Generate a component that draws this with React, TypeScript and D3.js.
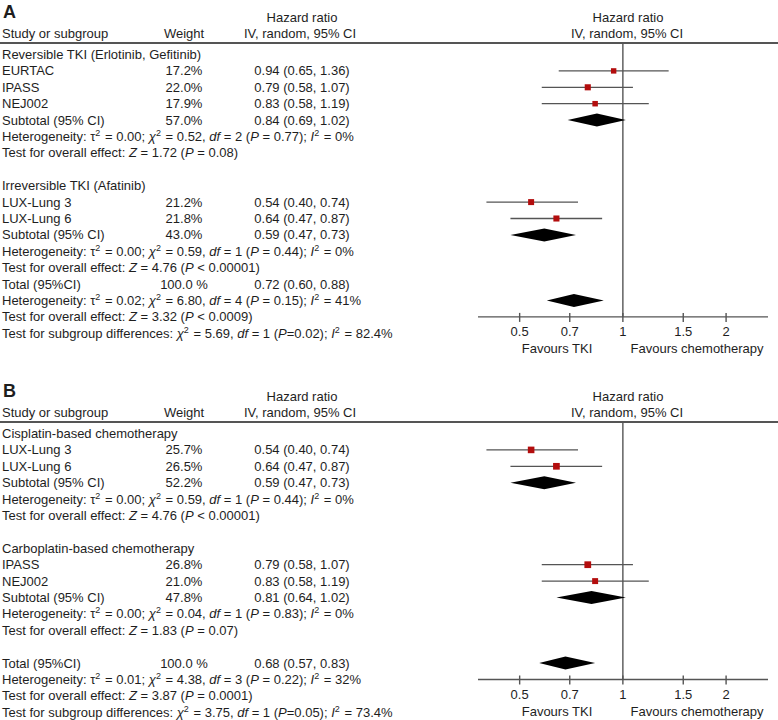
import React from "react";
import * as d3 from "d3";

const W = 778;
const H = 720;
const FONT = "'Liberation Sans', Arial, Helvetica, sans-serif";

// ---------- Panel A ----------
const groupNamesA = ["Reversible TKI (Erlotinib, Gefitinib)", "Irreversible TKI (Afatinib)"];
const studyNamesA = [["EURTAC", "IPASS", "NEJ002"], ["LUX-Lung 3", "LUX-Lung 6"]];
const studyWeightsA = [[17.2, 22.0, 17.9], [21.2, 21.8]];
const studyHRA = [[0.94, 0.79, 0.83], [0.54, 0.64]];
const studyLowA = [[0.65, 0.58, 0.58], [0.40, 0.47]];
const studyHighA = [[1.36, 1.07, 1.19], [0.74, 0.87]];
const subWeightsA = [57.0, 43.0];
const subHRA = [0.84, 0.59];
const subLowA = [0.69, 0.47];
const subHighA = [1.02, 0.73];
const hetTauA = ["0.00", "0.00"];
const hetChiA = ["0.52", "0.59"];
const hetDfA = ["2", "1"];
const hetPA = ["= 0.77", "= 0.44"];
const hetIA = ["0%", "0%"];
const zA = ["1.72", "4.76"];
const zPA = ["= 0.08", "< 0.00001"];
const totalA = { hr: 0.72, lo: 0.60, hi: 0.88, tau: "0.02", chi: "6.80", df: "4", p: "= 0.15", i2: "41%", z: "3.32", zp: "< 0.0009", sChi: "5.69", sDf: "1", sP: "0.02", sI: "82.4%" };

// ---------- Panel B ----------
const groupNamesB = ["Cisplatin-based chemotherapy", "Carboplatin-based chemotherapy"];
const studyNamesB = [["LUX-Lung 3", "LUX-Lung 6"], ["IPASS", "NEJ002"]];
const studyWeightsB = [[25.7, 26.5], [26.8, 21.0]];
const studyHRB = [[0.54, 0.64], [0.79, 0.83]];
const studyLowB = [[0.40, 0.47], [0.58, 0.58]];
const studyHighB = [[0.74, 0.87], [1.07, 1.19]];
const subWeightsB = [52.2, 47.8];
const subHRB = [0.59, 0.81];
const subLowB = [0.47, 0.64];
const subHighB = [0.73, 1.02];
const hetTauB = ["0.00", "0.00"];
const hetChiB = ["0.59", "0.04"];
const hetDfB = ["1", "1"];
const hetPB = ["= 0.44", "= 0.83"];
const hetIB = ["0%", "0%"];
const zB = ["4.76", "1.83"];
const zPB = ["< 0.00001", "= 0.07"];
const totalB = { hr: 0.68, lo: 0.57, hi: 0.83, tau: "0.01", chi: "4.38", df: "3", p: "= 0.22", i2: "32%", z: "3.87", zp: "= 0.0001", sChi: "3.75", sDf: "1", sP: "0.05", sI: "73.4%" };

// ---------- Axis ----------
const tickValues = [0.5, 0.7, 1, 1.5, 2];
const tickLabels = ["0.5", "0.7", "1", "1.5", "2"];
const favourLeft = "Favours TKI";
const favourRight = "Favours chemotherapy";

const x = d3.scaleLog().domain([0.378, 2.65]).range([478, 768]);

const ROW = 16.4;
const TEXT_COLOR = "#1e1e1e";
const LINE_COLOR = "#555";
const MARK_COLOR = "#b30d0d";

const fmt2 = d3.format(".2f");
const fmtW = (w: number) => w.toFixed(1) + "%";
const hrText = (h: number, l: number, u: number) => `${fmt2(h)} (${fmt2(l)}, ${fmt2(u)})`;

function Sup({ t }: { t: string }) {
  return (
    <>
      <tspan dy={-5} fontSize={9}>{t}</tspan>
      <tspan dy={5}>{"\u200A"}</tspan>
    </>
  );
}

function It({ t }: { t: string }) {
  return <tspan fontStyle="italic">{t}</tspan>;
}

function HetLine({ tau, chi, df, p, i2 }: any) {
  return (
    <>
      {"Heterogeneity: \u03C4"}
      <Sup t="2" />
      {` = ${tau}; `}
      <It t={"\u03C7"} />
      <Sup t="2" />
      {` = ${chi}, `}
      <It t="df" />
      {` = ${df} (`}
      <It t="P" />
      {` ${p}); `}
      <It t="I" />
      <Sup t="2" />
      {` = ${i2}`}
    </>
  );
}

function ZLine({ z, p }: any) {
  return (
    <>
      {"Test for overall effect: "}
      <It t="Z" />
      {` = ${z} (`}
      <It t="P" />
      {` ${p})`}
    </>
  );
}

function SubLine({ chi, df, p, i2 }: any) {
  return (
    <>
      {"Test for subgroup differences: "}
      <It t={"\u03C7"} />
      <Sup t="2" />
      {` = ${chi}, `}
      <It t="df" />
      {` = ${df} (`}
      <It t="P" />
      {`=${p}); `}
      <It t="I" />
      <Sup t="2" />
      {` = ${i2}`}
    </>
  );
}

function Panel(props: any) {
  const { top, letter, groups, names, weights, hr, lo, hi, sW, sHR, sLo, sHi, tau, chi, df, hp, hi2, z, zp, total, totalGap } = props;
  const lineY = top + 43;
  const rowY = (i: number) => top + 54.5 + i * ROW;
  const textEls: any[] = [];
  const plotEls: any[] = [];
  let idx = 0;
  const tx = (i: number) => rowY(i) + 4.5;

  groups.forEach((g: string, gi: number) => {
    if (gi > 0) idx += 1; // blank row between groups
    textEls.push(<text key={`g${gi}`} x={2} y={tx(idx)}>{g}</text>);
    idx++;
    names[gi].forEach((n: string, si: number) => {
      const yy = rowY(idx);
      textEls.push(
        <g key={`s${gi}-${si}`}>
          <text x={2} y={tx(idx)}>{n}</text>
          <text x={184} y={tx(idx)} textAnchor="middle">{fmtW(weights[gi][si])}</text>
          <text x={302} y={tx(idx)} textAnchor="middle">{hrText(hr[gi][si], lo[gi][si], hi[gi][si])}</text>
        </g>
      );
      const side = Math.sqrt(weights[gi][si]) * 1.3;
      plotEls.push(
        <g key={`m${gi}-${si}`}>
          <line x1={x(lo[gi][si])} x2={x(hi[gi][si])} y1={yy} y2={yy} stroke={LINE_COLOR} strokeWidth={1.3} />
          <rect x={x(hr[gi][si]) - side / 2} y={yy - side / 2} width={side} height={side} fill={MARK_COLOR} />
        </g>
      );
      idx++;
    });
    const ys = rowY(idx);
    textEls.push(
      <g key={`st${gi}`}>
        <text x={2} y={tx(idx)}>Subtotal (95% CI)</text>
        <text x={184} y={tx(idx)} textAnchor="middle">{fmtW(sW[gi])}</text>
        <text x={302} y={tx(idx)} textAnchor="middle">{hrText(sHR[gi], sLo[gi], sHi[gi])}</text>
      </g>
    );
    const dh = 6.5;
    plotEls.push(
      <path key={`d${gi}`} d={`M${x(sLo[gi])},${ys}L${x(sHR[gi])},${ys - dh}L${x(sHi[gi])},${ys}L${x(sHR[gi])},${ys + dh}Z`} fill="#000" />
    );
    idx++;
    textEls.push(<text key={`h${gi}`} x={2} y={tx(idx)}><HetLine tau={tau[gi]} chi={chi[gi]} df={df[gi]} p={hp[gi]} i2={hi2[gi]} /></text>);
    idx++;
    textEls.push(<text key={`z${gi}`} x={2} y={tx(idx)}><ZLine z={z[gi]} p={zp[gi]} /></text>);
    idx++;
  });

  const plotTotalIdx = idx + 1;
  let ti = idx + totalGap;
  textEls.push(
    <g key="tot">
      <text x={2} y={tx(ti)}>Total (95%CI)</text>
      <text x={184} y={tx(ti)} textAnchor="middle">100.0 %</text>
      <text x={302} y={tx(ti)} textAnchor="middle">{hrText(total.hr, total.lo, total.hi)}</text>
    </g>
  );
  ti++;
  textEls.push(<text key="th" x={2} y={tx(ti)}><HetLine tau={total.tau} chi={total.chi} df={total.df} p={total.p} i2={total.i2} /></text>);
  ti++;
  textEls.push(<text key="tz" x={2} y={tx(ti)}><ZLine z={total.z} p={total.zp} /></text>);
  ti++;
  textEls.push(<text key="ts" x={2} y={tx(ti)}><SubLine chi={total.sChi} df={total.sDf} p={total.sP} i2={total.sI} /></text>);

  const yt = rowY(plotTotalIdx);
  const dh = 6.5;
  plotEls.push(
    <path key="dtot" d={`M${x(total.lo)},${yt}L${x(total.hr)},${yt - dh}L${x(total.hi)},${yt}L${x(total.hr)},${yt + dh}Z`} fill="#000" />
  );
  const axisY = rowY(plotTotalIdx + 1);
  const [r0, r1] = x.range();

  return (
    <g>
      <text x={3} y={top + 18} fontWeight="bold" fontSize={18}>{letter}</text>
      <text x={302} y={top + 21.5} textAnchor="middle">Hazard ratio</text>
      <text x={300} y={top + 38} textAnchor="middle">IV, random, 95% CI</text>
      <text x={2} y={top + 38}>Study or subgroup</text>
      <text x={184} y={top + 38} textAnchor="middle">Weight</text>
      <text x={628} y={top + 21.5} textAnchor="middle">Hazard ratio</text>
      <text x={627} y={top + 38} textAnchor="middle">IV, random, 95% CI</text>
      <line x1={0} x2={W} y1={lineY} y2={lineY} stroke={LINE_COLOR} strokeWidth={1.8} />
      {textEls}
      <line x1={x(1)} x2={x(1)} y1={lineY} y2={axisY} stroke={LINE_COLOR} strokeWidth={1.4} />
      {plotEls}
      <line x1={r0} x2={r1} y1={axisY} y2={axisY} stroke={LINE_COLOR} strokeWidth={1.4} />
      {tickValues.map((t, i) => (
        <g key={`t${i}`}>
          <line x1={x(t)} x2={x(t)} y1={axisY - 4} y2={axisY + 5} stroke={LINE_COLOR} strokeWidth={1.4} />
          <text x={x(t)} y={axisY + 19} textAnchor="middle">{tickLabels[i]}</text>
        </g>
      ))}
      <text x={557} y={axisY + 36} textAnchor="middle">{favourLeft}</text>
      <text x={697} y={axisY + 36} textAnchor="middle">{favourRight}</text>
    </g>
  );
}

export default function App() {
  return (
    <svg
      width={W}
      height={H}
      style={{ position: "absolute", left: 0, top: 0, background: "#fff" }}
      fontFamily={FONT}
      fontSize={13}
      fill={TEXT_COLOR}
    >
      <rect width={W} height={H} fill="#fff" />
      <Panel
        top={0}
        letter="A"
        groups={groupNamesA}
        names={studyNamesA}
        weights={studyWeightsA}
        hr={studyHRA}
        lo={studyLowA}
        hi={studyHighA}
        sW={subWeightsA}
        sHR={subHRA}
        sLo={subLowA}
        sHi={subHighA}
        tau={hetTauA}
        chi={hetChiA}
        df={hetDfA}
        hp={hetPA}
        hi2={hetIA}
        z={zA}
        zp={zPA}
        total={totalA}
        totalGap={0}
      />
      <Panel
        top={379}
        letter="B"
        groups={groupNamesB}
        names={studyNamesB}
        weights={studyWeightsB}
        hr={studyHRB}
        lo={studyLowB}
        hi={studyHighB}
        sW={subWeightsB}
        sHR={subHRB}
        sLo={subLowB}
        sHi={subHighB}
        tau={hetTauB}
        chi={hetChiB}
        df={hetDfB}
        hp={hetPB}
        hi2={hetIB}
        z={zB}
        zp={zPB}
        total={totalB}
        totalGap={1}
      />
    </svg>
  );
}
